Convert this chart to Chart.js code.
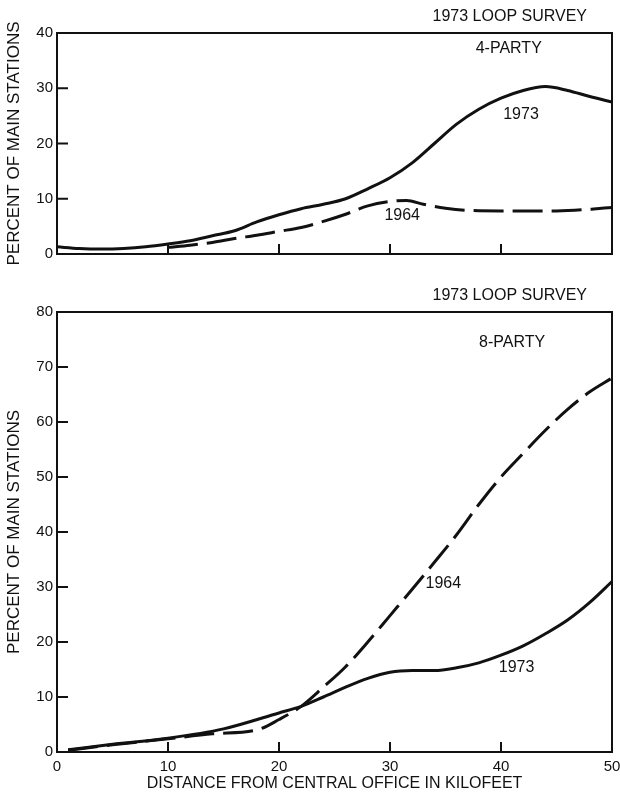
<!DOCTYPE html>
<html>
<head>
<meta charset="utf-8">
<script src="https://cdn.jsdelivr.net/npm/chart.js@4.4.1/dist/chart.umd.min.js"></script>
<style>
  html, body { margin: 0; padding: 0; background: #fff; }
  #wrap { position: relative; width: 620px; height: 793px; }
  canvas { position: absolute; left: 0; }
  #fourParty { top: 0; }
  #eightParty { top: 270px; }
</style>
</head>
<body>
<div id="wrap">
  <canvas id="fourParty" width="620" height="270"></canvas>
  <canvas id="eightParty" width="620" height="523"></canvas>
</div>
<script>
// distance from central office (kilofeet) and percent of main stations
const fourX1973 = [0, 2, 4, 6, 8, 10, 12, 14, 16, 18, 20, 22, 24, 26, 28, 30, 32, 34, 36, 38, 40, 42, 44, 46, 48, 50];
const four1973  = [1.3, 1.0, 0.9, 1.0, 1.3, 1.8, 2.4, 3.3, 4.2, 5.8, 7.1, 8.2, 9.0, 10.0, 11.8, 13.8, 16.5, 20.0, 23.5, 26.2, 28.2, 29.6, 30.3, 29.6, 28.5, 27.5];
const fourX1964 = [10, 12, 14, 16, 18, 20, 22, 24, 26, 28, 30, 31.5, 33, 35, 37, 40, 45, 50];
const four1964  = [1.2, 1.6, 2.1, 2.8, 3.4, 4.1, 4.8, 5.9, 7.2, 8.7, 9.5, 9.7, 9.0, 8.3, 7.9, 7.8, 7.8, 8.4];

const eightX1973 = [1, 5, 10, 15, 20, 22, 24, 26, 28, 30, 32, 34, 36, 38, 40, 42, 44, 46, 48, 50];
const eight1973  = [0.4, 1.4, 2.5, 4.2, 7.1, 8.3, 10.0, 11.8, 13.4, 14.5, 14.8, 14.8, 15.3, 16.2, 17.6, 19.3, 21.5, 24.0, 27.2, 31.0];
const eightX1964 = [1, 5, 10, 14, 18, 20, 22, 24, 26, 28, 30, 32, 34, 36, 38, 40, 42, 44, 46, 48, 50];
const eight1964  = [0.3, 1.3, 2.4, 3.3, 4.0, 5.9, 8.3, 11.8, 15.5, 20.0, 24.8, 29.6, 34.5, 39.5, 45.0, 50.0, 54.3, 58.5, 62.3, 65.5, 68.0];

const xTicks = [0, 10, 20, 30, 40, 50];
const fourYTicks = [0, 10, 20, 30, 40];
const eightYTicks = [0, 10, 20, 30, 40, 50, 60, 70, 80];

const surveyTitle = "1973 LOOP SURVEY";
const yTitle = "PERCENT OF MAIN STATIONS";
const xTitle = "DISTANCE FROM CENTRAL OFFICE IN KILOFEET";

// text notes placed in data units: [text, x, y]
const fourNotes = [["4-PARTY", 40.7, 37.1], ["1973", 41.8, 25.3], ["1964", 31.1, 6.9]];
const eightNotes = [["8-PARTY", 41.0, 74.5], ["1964", 34.8, 30.7], ["1973", 41.4, 15.3]];

const ink = "#111";
const family = "'Liberation Sans', Arial, sans-serif";
Chart.defaults.font.family = family;
Chart.defaults.color = ink;

function pts(xs, ys) {
    return xs.map((x, i) => ({ x: x, y: ys[i] }));
}

// box around the plot, inward tick marks, notes and the survey heading
const framePlugin = {
    id: "frame",
    afterDraw(chart, args, opts) {
        const { ctx, chartArea: a, scales } = chart;
        ctx.save();
        ctx.strokeStyle = ink;
        ctx.lineWidth = 2;
        ctx.strokeRect(a.left, a.top, a.right - a.left, a.bottom - a.top);

        ctx.beginPath();
        scales.y.ticks.forEach(t => {
            if (t.value === scales.y.min || t.value === scales.y.max) return;
            const py = scales.y.getPixelForValue(t.value);
            ctx.moveTo(a.left, py);
            ctx.lineTo(a.left + 11, py);
        });
        scales.x.ticks.forEach(t => {
            if (t.value === scales.x.min || t.value === scales.x.max) return;
            const px = scales.x.getPixelForValue(t.value);
            ctx.moveTo(px, a.bottom);
            ctx.lineTo(px, a.bottom - 10);
        });
        ctx.stroke();

        ctx.fillStyle = ink;
        ctx.textAlign = "center";
        ctx.textBaseline = "middle";
        ctx.font = "16px " + family;
        opts.notes.forEach(([txt, x, y]) => {
            ctx.fillText(txt, scales.x.getPixelForValue(x), scales.y.getPixelForValue(y));
        });

        ctx.textAlign = "right";
        ctx.fillText(surveyTitle, a.right - 25, a.top - 16);
        ctx.restore();
    }
};

function makeChart(id, opts) {
    const yTicks = opts.yTicks;
    return new Chart(document.getElementById(id), {
        type: "line",
        data: {
            datasets: [
                {
                    data: pts(opts.x1973, opts.y1973),
                    borderColor: ink,
                    borderWidth: 3
                },
                {
                    data: pts(opts.x1964, opts.y1964),
                    borderColor: ink,
                    borderWidth: 3,
                    borderDash: [30, 9]
                }
            ]
        },
        options: {
            responsive: false,
            animation: false,
            events: [],
            layout: { padding: { top: opts.top, right: 8, left: 0, bottom: 0 } },
            elements: {
                point: { radius: 0 },
                line: { cubicInterpolationMode: "monotone", fill: false }
            },
            plugins: {
                legend: { display: false },
                tooltip: { enabled: false },
                frame: { notes: opts.notes }
            },
            scales: {
                x: {
                    type: "linear",
                    min: 0,
                    max: 50,
                    grid: { display: false, drawTicks: false },
                    border: { display: false },
                    afterBuildTicks: s => { s.ticks = xTicks.map(v => ({ value: v })); },
                    afterFit: s => {
                        s.height = opts.xHeight;
                        s.paddingLeft = 0;
                        s.paddingRight = 0;
                    },
                    ticks: {
                        display: opts.showX,
                        padding: 6,
                        maxRotation: 0,
                        font: { size: 15 }
                    },
                    title: {
                        display: opts.showX,
                        text: xTitle,
                        font: { size: 16 },
                        padding: { top: 0, bottom: 0 }
                    }
                },
                y: {
                    min: 0,
                    max: yTicks[yTicks.length - 1],
                    grid: { display: false, drawTicks: false },
                    border: { display: false },
                    afterBuildTicks: s => { s.ticks = yTicks.map(v => ({ value: v })); },
                    afterFit: s => { s.width = 57; },
                    ticks: { padding: 4, font: { size: 15 } },
                    title: {
                        display: true,
                        text: yTitle,
                        font: { size: 17 },
                        padding: { top: 4, bottom: 0 }
                    }
                }
            }
        },
        plugins: [framePlugin]
    });
}

makeChart("fourParty", {
    x1973: fourX1973, y1973: four1973,
    x1964: fourX1964, y1964: four1964,
    yTicks: fourYTicks,
    notes: fourNotes,
    top: 33,
    xHeight: 16,
    showX: false
});

makeChart("eightParty", {
    x1973: eightX1973, y1973: eight1973,
    x1964: eightX1964, y1964: eight1964,
    yTicks: eightYTicks,
    notes: eightNotes,
    top: 42,
    xHeight: 41,
    showX: true
});
</script>
</body>
</html>
